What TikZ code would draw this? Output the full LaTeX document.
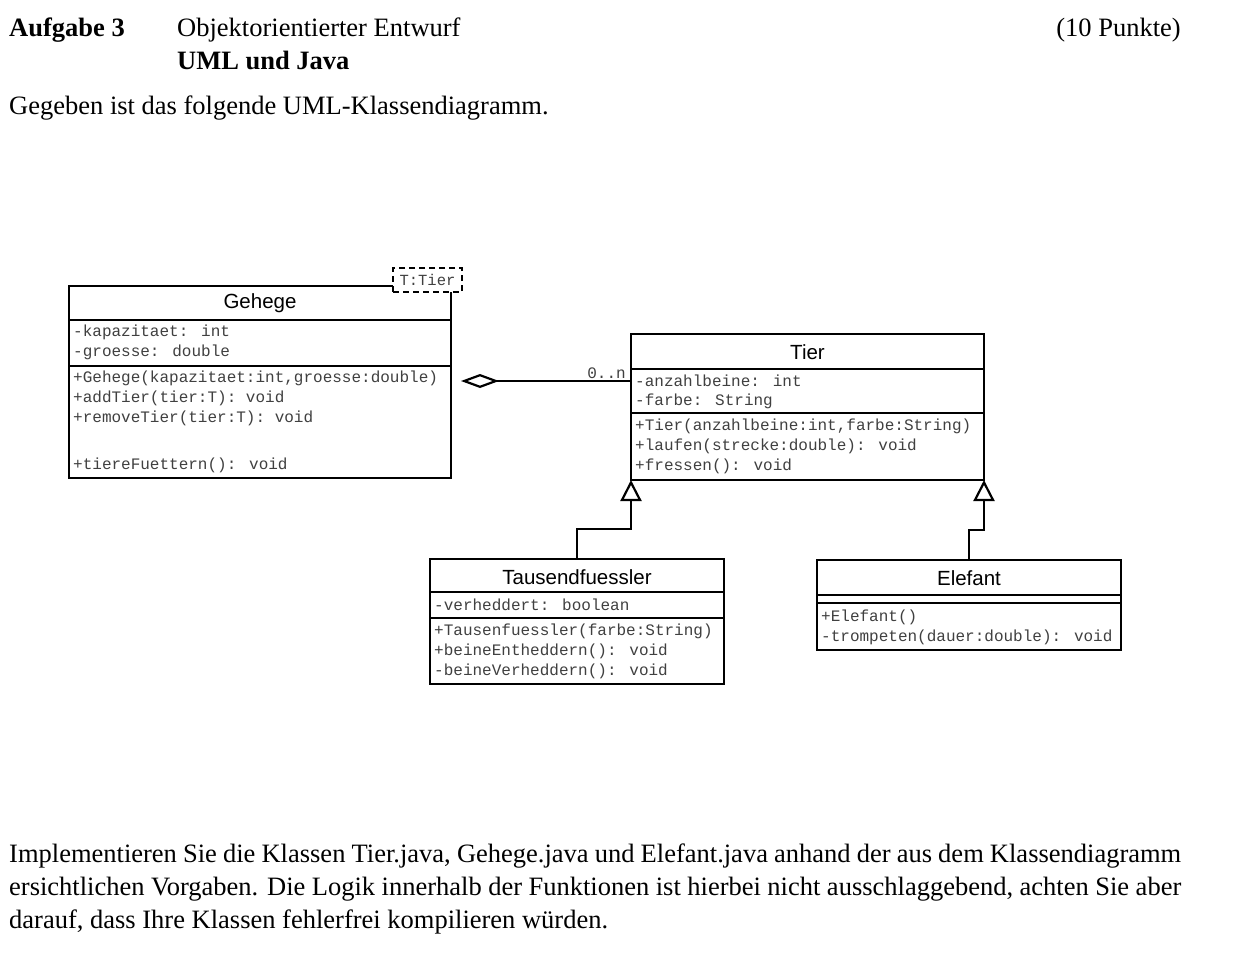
\documentclass[tikz,border=0pt]{standalone}
\usepackage{fontspec}
\setmainfont{Liberation Serif}
\newfontfamily\umlsans{Liberation Sans}
\newfontfamily\umlmono{Liberation Mono}
\usetikzlibrary{arrows.meta}
\tikzset{
  classbox/.style={draw, line width=2.6pt, fill=white, inner sep=0pt, outer sep=0pt, anchor=north west},
  sepline/.style={line width=2.4pt},
  cname/.style={font=\umlsans\fontsize{20.5}{24}\selectfont, inner sep=0pt},
  member/.style={font=\umlmono\fontsize{16}{20}\selectfont, text=black!75, inner sep=0pt, anchor=west},
  bodytext/.style={font=\fontsize{26.5}{33}\selectfont, inner sep=0pt, anchor=base west},
  gen/.style={line width=2.6pt, -{Triangle[open, length=21pt, width=21pt, line width=2.2pt]}},
  agg/.style={line width=2.6pt, -{Diamond[open, length=38pt, width=14pt, line width=2.2pt]}},
}
\begin{document}
\begin{tikzpicture}[x=1pt, y=-1pt]
\useasboundingbox (0,0) rectangle (1243,958);

% Header
\node[bodytext, font=\bfseries\fontsize{26.5}{33}\selectfont] (aufg) at (9,37) {Aufgabe 3};
\node[bodytext] (thema) at (177,37) {Objektorientierter Entwurf};
\node[bodytext, font=\bfseries\fontsize{26.5}{33}\selectfont] (sub) at (177,70) {UML und Java};
\node[bodytext, anchor=base east] (pkt) at (1181,37) {(10 Punkte)};
\node[bodytext] (intro) at (9,114) {Gegeben ist das folgende UML-Klassendiagramm.};

% Gehege
\node[classbox, minimum width=382pt, minimum height=192pt] (gehege) at (69,286) {};
\draw[sepline] (gehege.west |- 0,320) -- (gehege.east |- 0,320);
\draw[sepline] (gehege.west |- 0,366) -- (gehege.east |- 0,366);
\node[cname] (gname) at (260,303) {Gehege};
\node[member] (g1) at (73,332) {-kapazitaet: int};
\node[member] (g2) at (73,352) {-groesse: double};
\node[member] (g3) at (73,378) {+Gehege(kapazitaet:int,groesse:double)};
\node[member] (g4) at (73,398) {+addTier(tier:T): void};
\node[member] (g5) at (73,418) {+removeTier(tier:T): void};
\node[member] (g6) at (73,465) {+tiereFuettern(): void};
\node[draw, dashed, dash pattern=on 6pt off 4pt, line width=2.2pt, fill=white, minimum width=69pt, minimum height=24pt, inner sep=0pt, font=\umlmono\fontsize{15.5}{16}\selectfont, text=black!75] (tparam) at (427.5,280) {T:Tier};

% Tier
\node[classbox, minimum width=353pt, minimum height=146pt] (tier) at (631,334) {};
\draw[sepline] (tier.west |- 0,369) -- (tier.east |- 0,369);
\draw[sepline] (tier.west |- 0,413) -- (tier.east |- 0,413);
\node[cname] (tname) at (807.5,352) {Tier};
\node[member] (t1) at (635,381) {-anzahlbeine: int};
\node[member] (t2) at (635,401) {-farbe: String};
\node[member] (t3) at (635,426) {+Tier(anzahlbeine:int,farbe:String)};
\node[member] (t4) at (635,446) {+laufen(strecke:double): void};
\node[member] (t5) at (635,466) {+fressen(): void};

% Tausendfuessler
\node[classbox, minimum width=294pt, minimum height=125pt] (taus) at (430,559) {};
\draw[sepline] (taus.west |- 0,592) -- (taus.east |- 0,592);
\draw[sepline] (taus.west |- 0,618) -- (taus.east |- 0,618);
\node[cname] (tsname) at (577,577) {Tausendfuessler};
\node[member] (ts1) at (434,605) {-verheddert: boolean};
\node[member] (ts2) at (434,631) {+Tausenfuessler(farbe:String)};
\node[member] (ts3) at (434,651) {+beineEntheddern(): void};
\node[member] (ts4) at (434,671) {-beineVerheddern(): void};

% Elefant
\node[classbox, minimum width=304pt, minimum height=90pt] (ele) at (817,560) {};
\draw[sepline] (ele.west |- 0,595) -- (ele.east |- 0,595);
\draw[sepline] (ele.west |- 0,603) -- (ele.east |- 0,603);
\node[cname] (ename) at (969,578) {Elefant};
\node[member] (e1) at (821,617) {+Elefant()};
\node[member] (e2) at (821,637) {-trompeten(dauer:double): void};

% Aggregation
\coordinate (dia) at (461,381);
\draw[agg] (tier.west |- dia) -- (dia);
\node[font=\umlmono\fontsize{16}{18}\selectfont, text=black!75, inner sep=0pt, anchor=south east] (mult) at (626,379) {0..n};

% Generalizations
\draw[gen] (taus.north) |- (tier.south west |- 0,529) -- (tier.south west);
\draw[gen] (ele.north) |- (tier.south east |- 0,530) -- (tier.south east);

% Bottom paragraph
\node[bodytext] (p1) at (9,862) {\makebox[1172pt][s]{Implementieren Sie die Klassen Tier.java, Gehege.java und Elefant.java anhand der aus dem Klassendiagramm}};
\node[bodytext] (p2) at (9,895) {\makebox[1172pt][s]{ersichtlichen Vorgaben. Die Logik innerhalb der Funktionen ist hierbei nicht ausschlaggebend, achten Sie aber}};
\node[bodytext] (p3) at (9,928) {darauf, dass Ihre Klassen fehlerfrei kompilieren würden.};
\end{tikzpicture}
\end{document}
